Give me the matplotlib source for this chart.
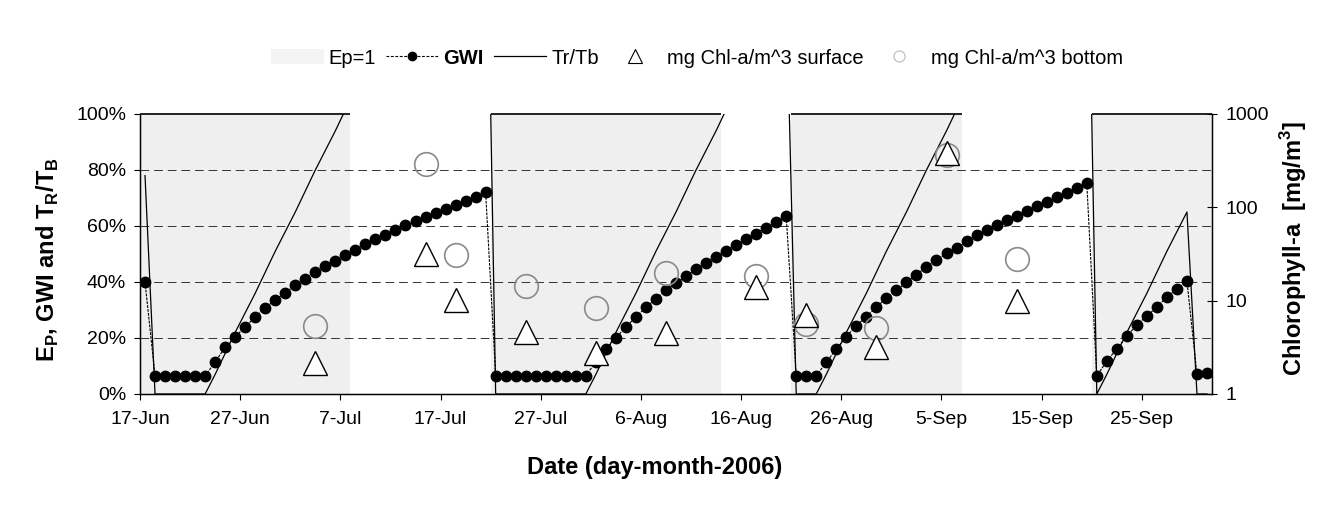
import numpy as np
import pandas as pd
import matplotlib
matplotlib.use("Agg")
import matplotlib.pyplot as plt
import matplotlib.dates as mdates
from matplotlib.lines import Line2D
from matplotlib.patches import Patch
from matplotlib.ticker import PercentFormatter, NullLocator

plt.rcParams['font.family'] = ['Liberation Sans', 'DejaVu Sans']
plt.rcParams['mathtext.fontset'] = 'custom'
plt.rcParams['mathtext.rm'] = 'Liberation Sans'
plt.rcParams['mathtext.bf'] = 'Liberation Sans:bold'

# daily series, 17-Jun-2006 .. 1-Oct-2006 (107 days)
days = pd.date_range("2006-06-17", periods=107, freq="D")

# GWI [%]
gwi = [40, 6.5, 6.5, 6.5, 6.5, 6.5, 6.5, 11.4, 16.7, 20.3, 24.1, 27.4, 30.8, 33.6,
       36.2, 38.8, 41.1, 43.5, 45.6, 47.6, 49.6, 51.6, 53.5, 55.2, 56.9, 58.6, 60.3,
       61.8, 63.3, 64.7, 66.1, 67.6, 69.0, 70.5, 72.0,
       6.5, 6.5, 6.5, 6.5, 6.5, 6.5, 6.5, 6.5, 6.5, 6.5, 11.5, 16.0, 20.0, 24.0, 27.5,
       31.0, 34.0, 37.0, 39.5, 42.2, 44.5, 46.8, 49.0, 51.2, 53.3, 55.3, 57.3, 59.3,
       61.5, 63.6,
       6.5, 6.5, 6.5, 11.3, 16.1, 20.5, 24.4, 27.6, 31.0, 34.3, 37.0, 39.9, 42.6, 45.5,
       47.9, 50.2, 52.1, 54.5, 56.9, 58.6, 60.3, 62.0, 63.7, 65.4, 67.1, 68.7, 70.3,
       71.9, 73.6, 75.4,
       6.5, 11.7, 16.2, 20.6, 24.8, 27.8, 31.1, 34.7, 37.5, 40.3, 7.0, 7.5]

# Tr/Tb [%]
tr_tb = [78, 0, 0, 0, 0, 0, 0, 7, 14.5, 22, 29, 36, 43.5, 51, 58, 65, 72.5, 80, 87,
         94, 101.5, 109, 116, 123, 130.5, 138, 145, 152, 159.5, 167, 174, 181, 188.5,
         196, 203,
         0, 0, 0, 0, 0, 0, 0, 0, 0, 0, 7, 14.5, 22, 29, 36, 43.5, 51, 58, 65, 72.5, 80,
         87, 94, 101.5, 109, 116, 123, 130.5, 138, 145,
         0, 0, 0, 7, 14.5, 22, 29, 36, 43.5, 51, 58, 65, 72.5, 80, 87, 94, 101.5, 109,
         116, 123, 130.5, 138, 145, 152, 159.5, 167, 174, 181, 188.5, 196,
         0, 7, 14.5, 22, 29, 36, 43.5, 51, 58, 65, 0, 0]

# days with Ep = 1 (first, last)
ep_periods = [("2006-06-17", "2006-07-07"), ("2006-07-22", "2006-08-13"),
              ("2006-08-21", "2006-09-06"), ("2006-09-20", "2006-10-01")]

# chlorophyll-a samples [mg/m^3]
chl_dates = ["2006-07-04", "2006-07-15", "2006-07-18", "2006-07-25", "2006-08-01",
             "2006-08-08", "2006-08-17", "2006-08-22", "2006-08-29", "2006-09-05",
             "2006-09-12"]
chl_surface = [2.16, 32, 10.1, 4.6, 2.75, 4.5, 14.1, 7.1, 3.2, 379, 10]
chl_bottom = [5.35, 288, 31, 14.4, 8.3, 19.6, 18.6, 5.6, 5.1, 361, 27.9]

x = days + pd.Timedelta(hours=12)
chl_x = pd.to_datetime(chl_dates) + pd.Timedelta(hours=12)

fig = plt.figure(figsize=(13.42, 5.12), dpi=100)
ax = fig.add_axes([140 / 1342, 118 / 512, 1072 / 1342, 280 / 512])

# Ep = 1 periods: light band with a line at 100 %
for a, b in ep_periods:
    start = pd.Timestamp(a)
    end = pd.Timestamp(b) + pd.Timedelta(days=1)
    ax.axvspan(start, end, color="#efefef", lw=0, zorder=0)
    ax.hlines(100, start, end, color="black", lw=1.2, zorder=2, clip_on=False)

ax.plot(x, tr_tb, color="black", lw=0.9, zorder=3)
ax.plot(x, gwi, color="black", lw=0.8, ls=(0, (2.5, 1)), marker="o", ms=7.5,
        markerfacecolor="black", markeredgecolor="black", zorder=4)

ax.set_ylim(0, 100)
ax.set_xlim(days[0], days[-1] + pd.Timedelta(days=1))
ax.set_yticks([0, 20, 40, 60, 80, 100])
ax.yaxis.set_major_formatter(PercentFormatter(xmax=100, decimals=0))
ax.set_xticks(days[::10])
ax.xaxis.set_major_formatter(mdates.DateFormatter("%-d-%b"))
ax.grid(axis="y", color="#333333", lw=0.7, ls=(0, (9, 5)))
ax.get_ygridlines()[-1].set_visible(False)
ax.get_ygridlines()[0].set_visible(False)
ax.tick_params(axis="both", labelsize=14, direction="out", length=4, width=0.8)
ax.tick_params(axis="y", pad=6)
ax.tick_params(axis="x", pad=8)
ax.spines["top"].set_visible(False)
for s in ["left", "bottom", "right"]:
    ax.spines[s].set_linewidth(1.0)

ax.set_ylabel(r"E$_\mathbf{P}$, GWI and T$_\mathbf{R}$/T$_\mathbf{B}$",
              fontsize=17, fontweight="bold")
ax.yaxis.set_label_coords(-0.074, 0.48)
ax.set_xlabel("Date (day-month-2006)", fontsize=17, fontweight="bold")
ax.xaxis.set_label_coords(0.48, -0.22)

# chlorophyll on log axis
ax2 = ax.twinx()
ax2.set_yscale("log")
ax2.set_ylim(1, 1000)
ax2.plot(chl_x, chl_bottom, ls="none", marker="o", ms=17, markerfacecolor="none",
         markeredgecolor="#8a8a8a", markeredgewidth=1.2)
ax2.plot(chl_x, chl_surface, ls="none", marker="^", ms=17, markerfacecolor="white",
         markeredgecolor="black", markeredgewidth=1.0)
ax2.set_yticks([1, 10, 100, 1000])
ax2.set_yticklabels(["1", "10", "100", "1000"])
ax2.yaxis.set_minor_locator(NullLocator())
ax2.tick_params(axis="y", labelsize=14, direction="inout", length=7, width=0.8, pad=6)
ax2.spines["top"].set_visible(False)
ax2.set_ylabel(r"Chlorophyll-a  [mg/m$^\mathbf{3}$]", fontsize=17, fontweight="bold",
               rotation=90)
ax2.yaxis.set_label_coords(1.062, 0.52)

handles = [
    Patch(facecolor="#f4f4f4", edgecolor="none"),
    Line2D([], [], color="black", lw=0.8, ls=(0, (2.5, 1.5)), marker="o", ms=6),
    Line2D([], [], color="black", lw=0.9),
    Line2D([], [], ls="none", marker="^", ms=10, markerfacecolor="white",
           markeredgecolor="black", markeredgewidth=0.8),
    Line2D([], [], ls="none", marker="o", ms=8, markerfacecolor="none",
           markeredgecolor="#bbbbbb", markeredgewidth=0.8),
]
labels = ["Ep=1", "GWI", "Tr/Tb", "mg Chl-a/m^3 surface", "mg Chl-a/m^3 bottom"]
leg = fig.legend(handles, labels, loc="center", bbox_to_anchor=(697 / 1342, 1 - 58 / 512),
                 ncol=5, frameon=False, fontsize=14.5, handlelength=2.6,
                 handletextpad=0.25, columnspacing=0.5)
leg.get_texts()[1].set_fontweight("bold")

fig.savefig("out.png", dpi=100)
